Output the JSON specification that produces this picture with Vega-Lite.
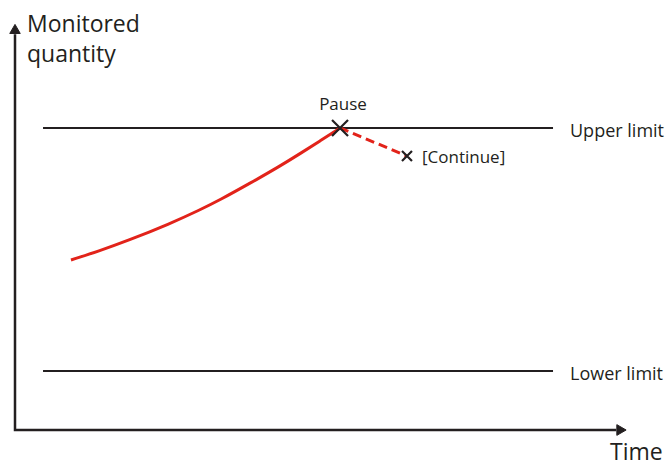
{
  "$schema": "https://vega.github.io/schema/vega-lite/v6.json",
  "width": 672,
  "height": 469,
  "padding": 0,
  "autosize": {"type": "fit", "contains": "padding"},
  "config": {"view": {"stroke": null}, "font": "Open Sans"},
  "datasets": {
    "axes": [
      {"o": 1, "t": 0, "q": 131},
      {"o": 2, "t": 0, "q": 0},
      {"o": 3, "t": 100.2, "q": 0}
    ],
    "yhead": [{"t": 0, "q": 132.8}],
    "xhead": [{"t": 101.08, "q": 0}],
    "limits": [
      {"label": "Upper limit", "q": 100, "t1": 4.67, "t2": 89.67, "lt": 92.5, "lq": 97.0},
      {"label": "Lower limit", "q": 19.5, "t1": 4.67, "t2": 89.67, "lt": 92.5, "lq": 16.56}
    ],
    "curve": [
      {"t": 9.33, "q": 56.3},
      {"t": 14.17, "q": 59.4},
      {"t": 18.67, "q": 62.6},
      {"t": 25.83, "q": 68.3},
      {"t": 30.83, "q": 72.9},
      {"t": 34.17, "q": 76.2},
      {"t": 39.17, "q": 81.7},
      {"t": 44.17, "q": 87.4},
      {"t": 47.5, "q": 91.5},
      {"t": 50.83, "q": 95.7},
      {"t": 54.17, "q": 100}
    ],
    "dashed": [
      {"t": 54.17, "q": 100},
      {"t": 65.33, "q": 90.7}
    ],
    "pause": [{"t": 54.17, "q": 100}],
    "cont": [{"t": 65.33, "q": 90.7}],
    "centerText": [{"t": 54.67, "q": 105.96, "label": "Pause"}],
    "leftText": [
      {"t": 67.83, "q": 88.41, "label": "[Continue]"}
    ],
    "bigText": [
      {"t": 2, "q": 131.79, "label": "Monitored"},
      {"t": 2, "q": 121.85, "label": "quantity"},
      {"t": 99.17, "q": -9.93, "label": "Time"}
    ]
  },
  "encoding": {
    "x": {"field": "t", "type": "quantitative", "scale": {"domain": [-2.5, 109.5], "nice": false, "zero": false}, "axis": null},
    "y": {"field": "q", "type": "quantitative", "scale": {"domain": [-12.91, 142.38], "nice": false, "zero": false}, "axis": null}
  },
  "layer": [
    {
      "data": {"name": "axes"},
      "mark": {"type": "line", "color": "#231f20", "strokeWidth": 2.5, "strokeJoin": "miter", "strokeCap": "butt"},
      "encoding": {"order": {"field": "o", "type": "quantitative"}}
    },
    {
      "data": {"name": "yhead"},
      "mark": {"type": "point", "shape": "triangle-up", "filled": true, "fill": "#231f20", "stroke": "#231f20", "strokeWidth": 1, "size": 110, "opacity": 1, "fillOpacity": 1}
    },
    {
      "data": {"name": "xhead"},
      "mark": {"type": "point", "shape": "triangle-right", "filled": true, "fill": "#231f20", "stroke": "#231f20", "strokeWidth": 1, "size": 115, "opacity": 1, "fillOpacity": 1}
    },
    {
      "data": {"name": "limits"},
      "mark": {"type": "rule", "color": "#231f20", "strokeWidth": 2},
      "encoding": {
        "x": {"field": "t1", "type": "quantitative"},
        "x2": {"field": "t2"},
        "y": {"field": "q", "type": "quantitative"}
      }
    },
    {
      "data": {"name": "limits"},
      "mark": {"type": "text", "align": "left", "baseline": "alphabetic", "fontSize": 18, "color": "#231f20"},
      "encoding": {
        "x": {"field": "lt", "type": "quantitative"},
        "y": {"field": "lq", "type": "quantitative"},
        "text": {"field": "label"}
      }
    },
    {
      "data": {"name": "curve"},
      "mark": {"type": "line", "color": "#e2231a", "strokeWidth": 3, "interpolate": "basis"}
    },
    {
      "data": {"name": "dashed"},
      "mark": {"type": "line", "color": "#e2231a", "strokeWidth": 3, "strokeDash": [9, 5]}
    },
    {
      "data": {"name": "pause"},
      "mark": {"type": "point", "shape": "M-1,-1L1,1M1,-1L-1,1", "filled": false, "color": "#231f20", "strokeWidth": 2.2, "size": 256, "opacity": 1}
    },
    {
      "data": {"name": "cont"},
      "mark": {"type": "point", "shape": "M-1,-1L1,1M1,-1L-1,1", "filled": false, "color": "#231f20", "strokeWidth": 2.2, "size": 100, "opacity": 1}
    },
    {
      "data": {"name": "centerText"},
      "mark": {"type": "text", "align": "center", "baseline": "alphabetic", "fontSize": 17, "color": "#231f20"},
      "encoding": {"text": {"field": "label"}}
    },
    {
      "data": {"name": "leftText"},
      "mark": {"type": "text", "align": "left", "baseline": "alphabetic", "fontSize": 17, "color": "#231f20"},
      "encoding": {"text": {"field": "label"}}
    },
    {
      "data": {"name": "bigText"},
      "mark": {"type": "text", "align": "left", "baseline": "alphabetic", "fontSize": 23, "color": "#231f20"},
      "encoding": {"text": {"field": "label"}}
    }
  ]
}
